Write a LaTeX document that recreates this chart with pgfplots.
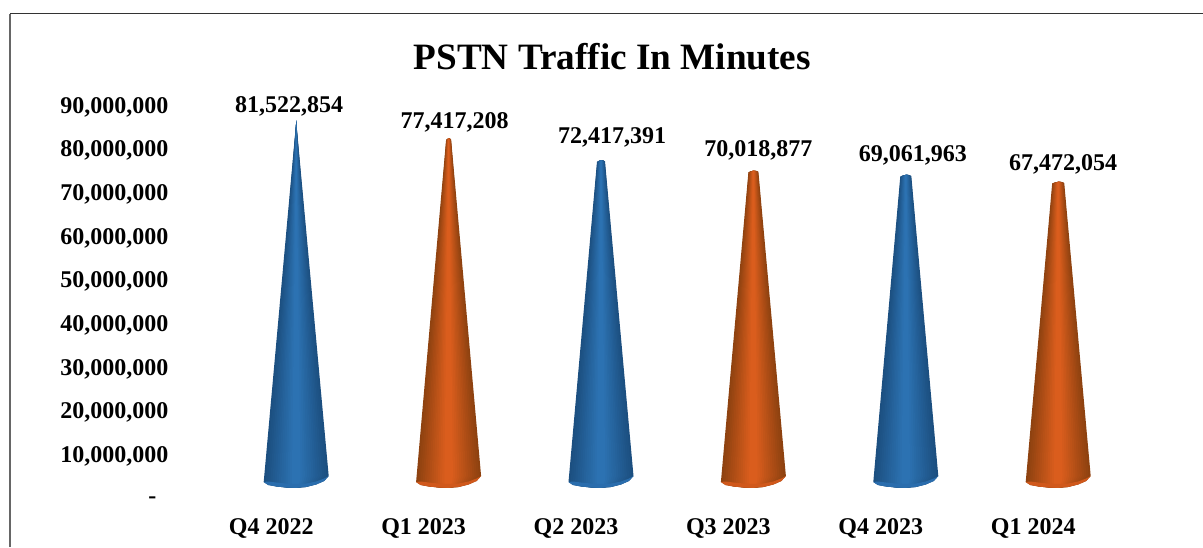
\documentclass[border=0pt]{standalone}
\usepackage{pgfplots}
\usepackage{pgfplotstable}
\pgfplotsset{compat=1.18}
\usepackage{fontspec}
\setmainfont{Liberation Serif}
\definecolor{bluee}{HTML}{1C4F80}
\definecolor{bluem}{HTML}{2C72B2}
\definecolor{blueb}{HTML}{2A6DAD}
\definecolor{orae}{HTML}{8E4210}
\definecolor{oram}{HTML}{DA5D1D}
\definecolor{orab}{HTML}{D0581B}
\newlength{\px}\setlength{\px}{0.75pt}
% cone outline: bdx = px offset at base, ts = side of top width, f = 1 at the top, dy = px offset
\pgfplotstableread{
bdx ts f dy
-32.5 0 0 16
-28 0 0 13
-20 0 0 11.5
-10 0 0 10.5
0 0 0 10.5
10 0 0 11
20 0 0 13.5
28 0 0 17
32.5 0 0 22
0 1 1 20.5
0 0.5 1 21.5
0 0 1 21.5
0 -0.5 1 21
0 -1 1 20
}\coneshape
% base rim: the outer arc, then back along an arc a little above it
\pgfplotstableread{
bdx dy
-32.5 16
-28 13
-20 11.5
-10 10.5
0 10.5
10 11
20 13.5
28 17
32.5 22
28 19.5
20 16.5
10 14.5
0 14
-10 14.5
-20 15.5
-28 16.5
}\conerim
\newcommand{\cone}[5]{% position, value, top half width, edge, middle
  \addplot[draw=none, fill=#4, forget plot]
    table[x expr={#1+(\thisrow{bdx}+\thisrow{ts}*#3)/152.4},
          y expr={\thisrow{f}*#2+\thisrow{dy}*229008}] {\coneshape} -- cycle;
  \pgfplotsinvokeforeach{1,...,13}{%
    \addplot[draw=none, fill={#5!\the\numexpr ##1*100/13\relax!#4}, forget plot]
      table[x expr={#1+(1-##1/15)*(\thisrow{bdx}+\thisrow{ts}*#3)/152.4},
            y expr={\thisrow{f}*#2+\thisrow{dy}*229008}] {\coneshape} -- cycle;
  }
}
\newcommand{\conebase}[2]{%
  \addplot[draw=none, fill=#2, forget plot]
    table[x expr={#1+\thisrow{bdx}/152.4}, y expr={\thisrow{dy}*229008}] {\conerim} -- cycle;
}
\begin{document}
\begin{tikzpicture}[x=1pt,y=1pt]
\useasboundingbox (0,0) rectangle (902.25pt,410.25pt);
\draw[color=black!60, line width=1.5\px] (10\px,0) -- (10\px,533\px);
\draw[color=black!80, line width=1\px] (10\px,533\px) -- (1203\px,533\px);
\begin{axis}[
  at={(220\px,49\px)}, anchor=south west,
  scale only axis, width=914.4\px, height=393\px,
  xmin=-0.5, xmax=5.5, ymin=0, ymax=90000000,
  clip=false,
  scaled y ticks=false,
  axis line style={draw=none},
  major tick length=0pt,
  xtick={0,1,2,3,4,5},
  xticklabels={Q4 2022,Q1 2023,Q2 2023,Q3 2023,Q4 2023,Q1 2024},
  ytick={0,10000000,20000000,30000000,40000000,50000000,60000000,70000000,80000000,90000000},
  yticklabels={\raisebox{-3\px}{-}\rule{12\px}{0pt},{10,000,000},{20,000,000},{30,000,000},{40,000,000},{50,000,000},{60,000,000},{70,000,000},{80,000,000},{90,000,000}},
  tick label style={font=\fontsize{18pt}{20pt}\selectfont\bfseries},
  yticklabel style={anchor=east, xshift=-47\px, yshift=-2\px},
  xticklabel style={anchor=center, xshift=-25\px, yshift=-30\px},
  title={PSTN Traffic In Minutes},
  title style={at={(0.429,1.102)}, anchor=center, font=\fontsize{27.9pt}{30pt}\selectfont\bfseries},
]
\cone{0}{81522854}{0}{bluee}{bluem}
\cone{1}{77417208}{2.5}{orae}{oram}
\cone{2}{72417391}{4}{bluee}{bluem}
\cone{3}{70018877}{5}{orae}{oram}
\cone{4}{69061963}{5.5}{bluee}{bluem}
\cone{5}{67472054}{6}{orae}{oram}
\conebase{0}{blueb}
\conebase{1}{orab}
\conebase{2}{blueb}
\conebase{3}{orab}
\conebase{4}{blueb}
\conebase{5}{orab}
\node[font=\fontsize{18pt}{20pt}\selectfont\bfseries] at (axis cs:0,81522854) [xshift=-7\px,yshift=36\px] {81,522,854};
\node[font=\fontsize{18pt}{20pt}\selectfont\bfseries] at (axis cs:1,77417208) [xshift=6\px,yshift=38\px] {77,417,208};
\node[font=\fontsize{18pt}{20pt}\selectfont\bfseries] at (axis cs:2,72417391) [xshift=11\px,yshift=44\px] {72,417,391};
\node[font=\fontsize{18pt}{20pt}\selectfont\bfseries] at (axis cs:3,70018877) [xshift=5\px,yshift=42\px] {70,018,877};
\node[font=\fontsize{18pt}{20pt}\selectfont\bfseries] at (axis cs:4,69061963) [xshift=7\px,yshift=41\px] {69,061,963};
\node[font=\fontsize{18pt}{20pt}\selectfont\bfseries] at (axis cs:5,67472054) [xshift=5\px,yshift=39\px] {67,472,054};
\end{axis}
\end{tikzpicture}
\end{document}
